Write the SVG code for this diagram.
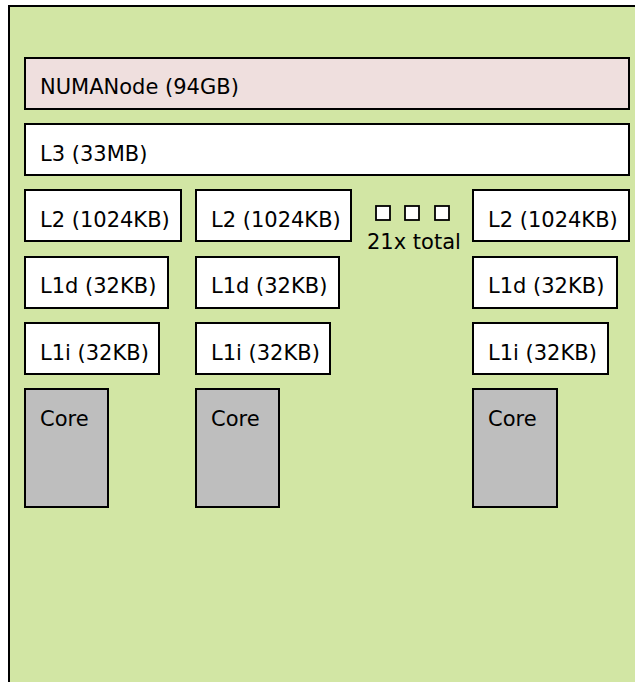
<svg xmlns="http://www.w3.org/2000/svg" width="635" height="682" viewBox="0 0 635 682">
<style>
rect{stroke:#000;stroke-width:2}
.pkg{fill:#d2e6a4}
.numa{fill:#efdfde}
.cache{fill:#fff}
.core{fill:#bebebe}
.dot{fill:#fff;stroke-width:1.8}
text{font-family:"DejaVu Sans",sans-serif;font-size:21px;fill:#000}
</style>
<rect fill="#fff" x="0" y="0" width="635" height="682" style="stroke:none"/>
<g id="package"><rect class="pkg" x="9" y="6" width="640" height="690"/></g>
<g id="numa"><rect class="numa" x="25" y="58" width="604" height="51"/><text x="40" y="94">NUMANode (94GB)</text></g>
<g id="l3"><rect class="cache" x="25" y="124" width="604" height="51"/><text x="40" y="161">L3 (33MB)</text></g>
<g id="l2a"><rect class="cache" x="25" y="190" width="156" height="51"/><text x="40" y="227">L2 (1024KB)</text></g>
<g id="l2b"><rect class="cache" x="196" y="190" width="155" height="51"/><text x="211" y="227">L2 (1024KB)</text></g>
<g id="l2c"><rect class="cache" x="473" y="190" width="156" height="51"/><text x="488" y="227">L2 (1024KB)</text></g>
<g id="l1da"><rect class="cache" x="25" y="257" width="143" height="51"/><text x="40" y="293">L1d (32KB)</text></g>
<g id="l1db"><rect class="cache" x="196" y="257" width="143" height="51"/><text x="211" y="293">L1d (32KB)</text></g>
<g id="l1dc"><rect class="cache" x="473" y="257" width="144" height="51"/><text x="488" y="293">L1d (32KB)</text></g>
<g id="l1ia"><rect class="cache" x="25" y="323" width="134" height="51"/><text x="40" y="360">L1i (32KB)</text></g>
<g id="l1ib"><rect class="cache" x="196" y="323" width="134" height="51"/><text x="211" y="360">L1i (32KB)</text></g>
<g id="l1ic"><rect class="cache" x="473" y="323" width="135" height="51"/><text x="488" y="360">L1i (32KB)</text></g>
<g id="corea"><rect class="core" x="25" y="389" width="83" height="118"/><text x="40" y="426">Core</text></g>
<g id="coreb"><rect class="core" x="196" y="389" width="83" height="118"/><text x="211" y="426">Core</text></g>
<g id="corec"><rect class="core" x="473" y="389" width="84" height="118"/><text x="488" y="426">Core</text></g>
<g id="more"><rect class="dot" x="376" y="206" width="14" height="14"/><rect class="dot" x="405" y="206" width="14" height="14"/><rect class="dot" x="435" y="206" width="14" height="14"/><text x="367" y="249">21x total</text></g>
<g id="connectors"/>
</svg>
